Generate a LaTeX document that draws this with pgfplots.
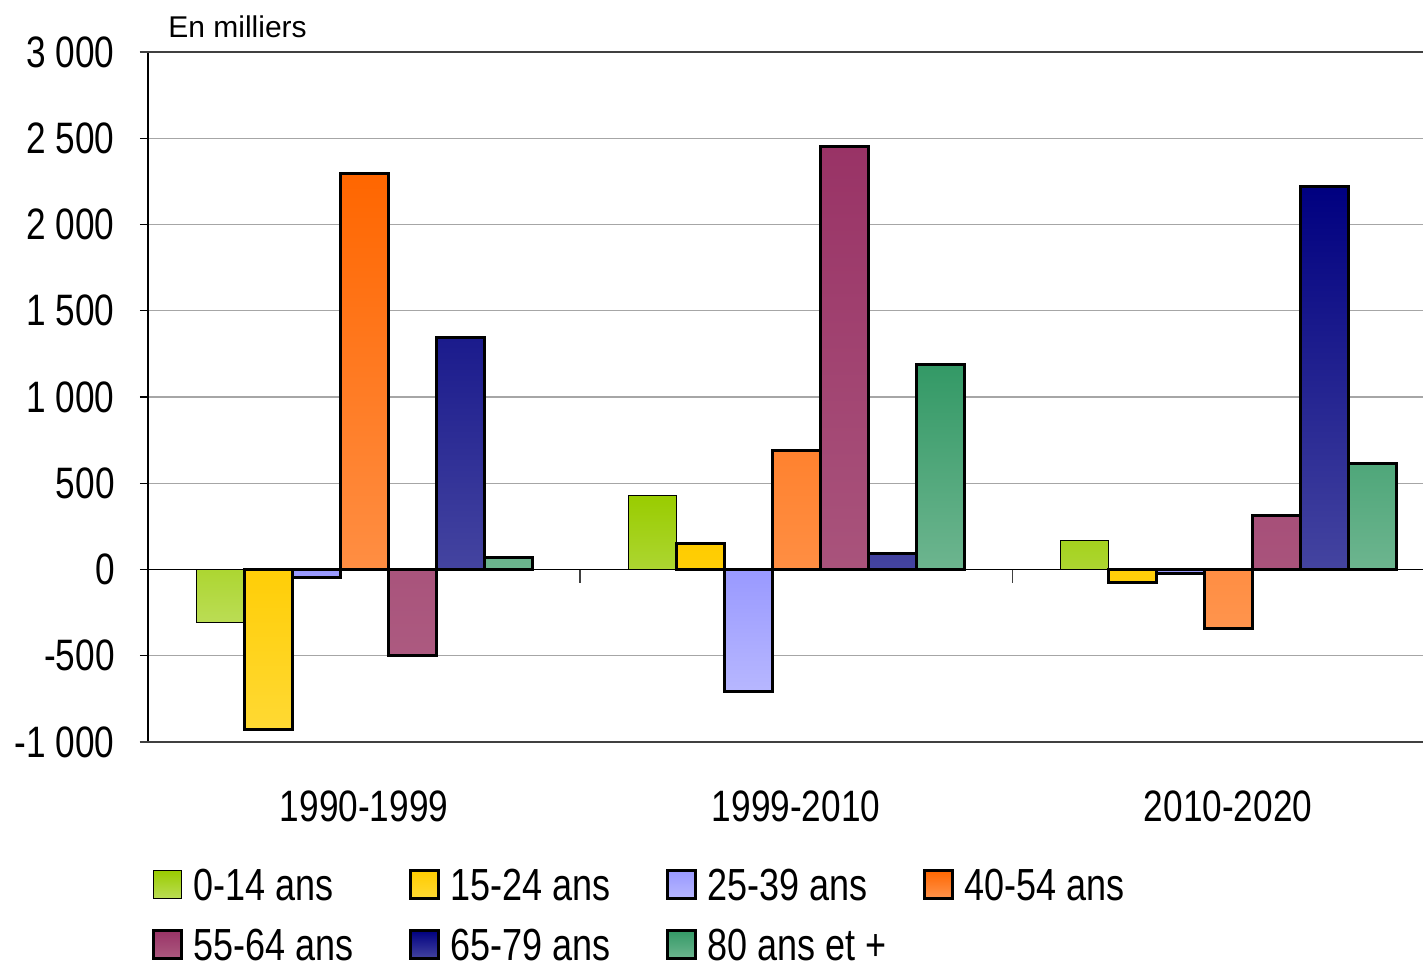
\documentclass[border=0pt]{standalone}
\usepackage{fontspec}
\setmainfont{Liberation Sans}
\newfontfamily\narrowfont[FakeStretch=0.8]{Liberation Sans}
\usepackage{pgfplots}
\pgfplotsset{compat=1.18}
\definecolor{gAt}{HTML}{99CC00}\definecolor{gAb}{HTML}{BBDD55}
\definecolor{gBt}{HTML}{FFCC00}\definecolor{gBb}{HTML}{FFD933}
\definecolor{gCt}{HTML}{9999FF}\definecolor{gCb}{HTML}{B7B7FF}
\definecolor{gDt}{HTML}{FF6600}\definecolor{gDb}{HTML}{FF944D}
\definecolor{gEt}{HTML}{993366}\definecolor{gEb}{HTML}{AC5A80}
\definecolor{gFt}{HTML}{000080}\definecolor{gFb}{HTML}{4444A0}
\definecolor{gGt}{HTML}{339966}\definecolor{gGb}{HTML}{6DB58F}
\definecolor{gridgray}{HTML}{A6A6A6}
\newcommand{\legtxt}[1]{\makebox[108pt][l]{#1}}
\begin{document}
\begin{tikzpicture}
\useasboundingbox (-74pt,-110.5pt) rectangle (637.5pt,371pt);
\begin{axis}[
  at={(0,0)}, anchor=south west,
  scale only axis, width=637.5pt, height=345pt,
  xmin=-0.5, xmax=2.451, ymin=-1000, ymax=3000,
  ybar=0pt, bar width=24pt,
  axis x line*=bottom, axis y line*=left,
  x axis line style={black!75, line width=0.6pt},
  y axis line style={black, line width=0.6pt},
  xtick={0,1,2}, xticklabels={1990-1999,1999-2010,2010-2020},
  x tick style={draw=none},
  ytick={-1000,-500,0,500,1000,1500,2000,2500,3000},
  yticklabels={-1 000,-500,0,500,1 000,1 500,2 000,2 500,3 000},
  y tick style={black, line width=0.6pt},
  tick align=outside, major tick length=4pt,
  ymajorgrids, grid style={gridgray, line width=0.6pt},
  ticklabel style={font=\narrowfont\fontsize{22}{26}\selectfont, inner sep=0pt},
  yticklabel style={anchor=east, xshift=-12.5pt},
  xticklabel style={anchor=north, yshift=-20pt},
  legend columns=4,
  legend style={at={(axis description cs:0,0)}, anchor=north west, xshift=2pt, yshift=-63pt,
    draw=none, fill=none, inner sep=0pt, column sep=0pt, row sep=14pt,
    font=\narrowfont\fontsize{22.5}{26}\selectfont,
    nodes={inner sep=0pt, text height=16pt, text depth=0pt}},
  /tikz/every odd column/.append style={column sep=5pt},
  legend image code/.code={\draw[#1] (0pt,-7pt) rectangle (14pt,7pt);},
  clip=false,
]
\draw[black, line width=0.6pt] (axis cs:-0.5,0) -- (axis cs:2.451,0);
\draw[black!75, line width=0.6pt] (axis cs:0.5,0) -- ([yshift=-6.5pt]axis cs:0.5,0);
\draw[black!75, line width=0.6pt] (axis cs:1.5,0) -- ([yshift=-6.5pt]axis cs:1.5,0);
\draw[black!75, line width=0.6pt] ([xshift=-4pt]rel axis cs:0,1) -- (rel axis cs:1,1);
\draw[black!75, line width=0.6pt] ([xshift=-4pt]rel axis cs:0,0) -- (rel axis cs:1,0);
\addplot[top color=gAt, bottom color=gAb, draw=black, line width=0.5pt] coordinates {(0,-310) (1,430) (2,168)};
\addplot[top color=gBt, bottom color=gBb, draw=black, line width=1.5pt] coordinates {(0,-930) (1,152) (2,-75)};
\addplot[top color=gCt, bottom color=gCb, draw=black, line width=1.5pt] coordinates {(0,-45) (1,-707) (2,-22)};
\addplot[top color=gDt, bottom color=gDb, draw=black, line width=1.5pt] coordinates {(0,2297) (1,690) (2,-343)};
\addplot[top color=gEt, bottom color=gEb, draw=black, line width=1.5pt] coordinates {(0,-500) (1,2455) (2,313)};
\addplot[top color=gFt, bottom color=gFb, draw=black, line width=1.5pt] coordinates {(0,1345) (1,93) (2,2220)};
\addplot[top color=gGt, bottom color=gGb, draw=black, line width=1.5pt] coordinates {(0,70) (1,1188) (2,615)};
\legend{\legtxt{0-14 ans},\legtxt{15-24 ans},\legtxt{25-39 ans},\legtxt{40-54 ans},\legtxt{55-64 ans},\legtxt{65-79 ans},\legtxt{80 ans et +}}
\node[anchor=base west, inner sep=0pt, font=\fontsize{15}{18}\selectfont, xshift=10pt, yshift=7.5pt] at (rel axis cs:0,1) {En milliers};
\end{axis}
\end{tikzpicture}
\end{document}
